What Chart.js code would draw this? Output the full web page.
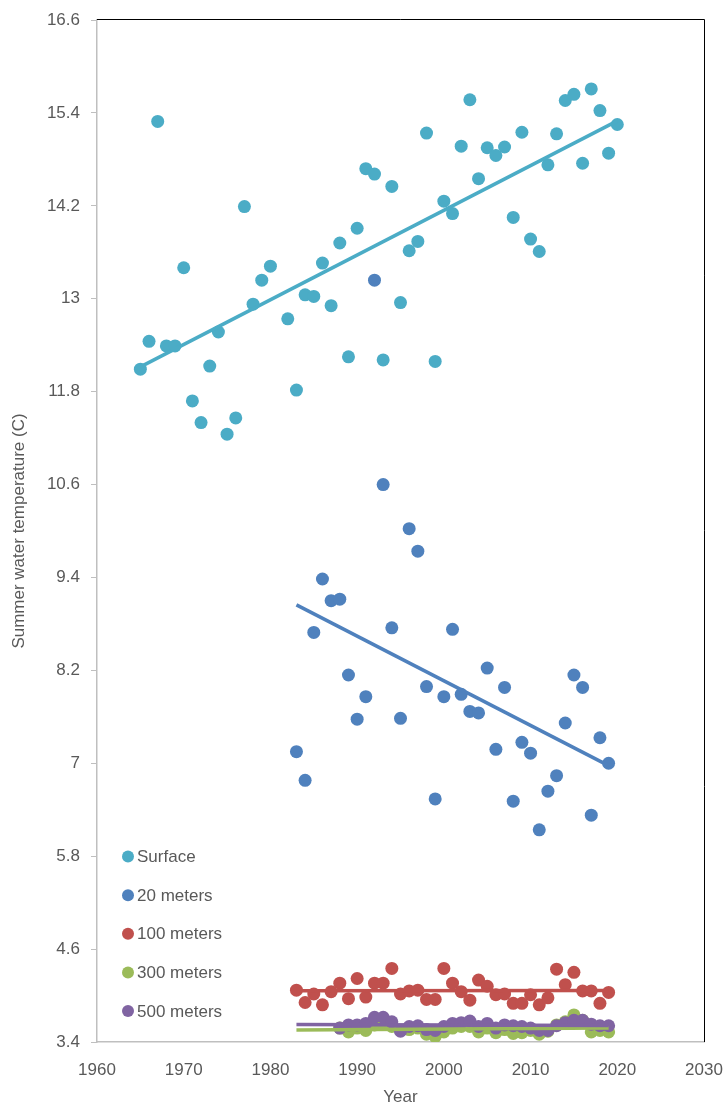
<!DOCTYPE html>
<html lang="en">
<head>
    <meta charset="UTF-8">
    <title>Summer water temperature</title>
    <script src="https://cdn.jsdelivr.net/npm/chart.js"></script>
    <style>
        html, body {
            margin: 0;
            padding: 0;
            background: #fff;
        }
        .chart-container {
            position: relative;
            width: 728px;
            height: 1108px;
        }
    </style>
</head>
<body>
    <div class="chart-container">
        <canvas id="tempChart"></canvas>
    </div>

    <script>
        // years
        function range(a, b) {
            const out = [];
            for (let y = a; y <= b; y++) out.push(y);
            return out;
        }
        const surfaceYears = range(1965, 2020).filter(y => y !== 1981);
        const m20Years = range(1983, 2019);
        const m100Years = range(1983, 2019);
        const deepYears = range(1988, 2019);

        // values (C)
        const surface = [12.09, 12.45, 15.29, 12.39, 12.39, 13.40, 11.68, 11.40, 12.13, 12.57,
            11.25, 11.46, 14.19, 12.93, 13.24, 13.42, 12.74, 11.82, 13.05, 13.03,
            13.46, 12.91, 13.72, 12.25, 13.91, 14.68, 14.61, 12.21, 14.45, 12.95,
            13.62, 13.74, 15.14, 12.19, 14.26, 14.10, 14.97, 15.57, 14.55, 14.95,
            14.85, 14.96, 14.05, 15.15, 13.77, 13.61, 14.73, 15.13, 15.56, 15.64,
            14.75, 15.71, 15.43, 14.88, 15.25];
        const m20 = [7.15, 6.78, 8.69, 9.38, 9.10, 9.12, 8.14, 7.57, 7.86, 13.24,
            10.60, 8.75, 7.58, 10.03, 9.74, 7.99, 6.54, 7.86, 8.73, 7.89,
            7.67, 7.65, 8.23, 7.18, 7.98, 6.51, 7.27, 7.13, 6.14, 6.64,
            6.84, 7.52, 8.14, 7.98, 6.33, 7.33, 7.00];
        const m100 = [4.07, 3.91, 4.02, 3.88, 4.05, 4.16, 3.96, 4.22, 3.98, 4.16,
            4.16, 4.35, 4.02, 4.06, 4.07, 3.95, 3.95, 4.35, 4.16, 4.05,
            3.94, 4.20, 4.12, 4.01, 4.02, 3.90, 3.90, 4.01, 3.88, 3.97,
            4.34, 4.14, 4.30, 4.06, 4.06, 3.90, 4.04];
        const m300 = [3.58, 3.53, 3.58, 3.55, 3.62, 3.63, 3.60, 3.55, 3.56, 3.58,
            3.50, 3.47, 3.53, 3.58, 3.60, 3.60, 3.53, 3.58, 3.52, 3.56,
            3.51, 3.52, 3.55, 3.50, 3.54, 3.62, 3.66, 3.75, 3.68, 3.53,
            3.55, 3.53];
        const m500 = [3.58, 3.62, 3.62, 3.64, 3.72, 3.72, 3.66, 3.54, 3.60, 3.61,
            3.56, 3.55, 3.60, 3.64, 3.65, 3.67, 3.60, 3.64, 3.58, 3.62,
            3.61, 3.60, 3.58, 3.55, 3.55, 3.61, 3.65, 3.68, 3.68, 3.63,
            3.61, 3.61];

        const seriesNames = ['Surface', '20 meters', '100 meters', '300 meters', '500 meters'];
        const seriesColors = ['#4BACC6', '#4F81BD', '#C0504D', '#9BBB59', '#8064A2'];
        // x span of each linear trendline
        const trendFrom = [1965, 1983, 1983, 1983, 1983];
        const trendTo = [2020, 2019, 2019, 2019, 2019];

        const yTicks = [3.4, 4.6, 5.8, 7, 8.2, 9.4, 10.6, 11.8, 13, 14.2, 15.4, 16.6];

        const textColor = '#595959';
        const axisColor = '#BFBFBF';
        Chart.defaults.font.family = "'Liberation Sans', Arial, sans-serif";
        Chart.defaults.font.size = 17;
        Chart.defaults.color = textColor;

        function toPoints(xs, ys) {
            return xs.map((x, i) => ({ x: x, y: ys[i] }));
        }

        // least squares line, evaluated at both ends
        function trend(xs, ys, from, to) {
            const n = xs.length;
            const mx = xs.reduce((a, b) => a + b, 0) / n;
            const my = ys.reduce((a, b) => a + b, 0) / n;
            let sxy = 0, sxx = 0;
            for (let i = 0; i < n; i++) {
                sxy += (xs[i] - mx) * (ys[i] - my);
                sxx += (xs[i] - mx) * (xs[i] - mx);
            }
            const m = sxy / sxx;
            const b = my - m * mx;
            return [{ x: from, y: m * from + b }, { x: to, y: m * to + b }];
        }

        const allX = [surfaceYears, m20Years, m100Years, deepYears, deepYears];
        const allY = [surface, m20, m100, m300, m500];

        const datasets = [];
        allY.forEach((ys, i) => {
            datasets.push({
                label: seriesNames[i],
                data: toPoints(allX[i], ys),
                backgroundColor: seriesColors[i],
                borderColor: seriesColors[i],
                pointRadius: 6.5,
                pointBorderWidth: 0,
                showLine: false,
                order: 20 - i
            });
        });
        allY.forEach((ys, i) => {
            datasets.push({
                label: seriesNames[i] + ' trend',
                data: trend(allX[i], ys, trendFrom[i], trendTo[i]),
                borderColor: seriesColors[i],
                borderWidth: 3.5,
                pointRadius: 0,
                showLine: true,
                fill: false,
                order: 10 - i
            });
        });

        // black frame on top and right side of the plot area
        const frame = {
            id: 'frame',
            beforeDatasetsDraw(chart) {
                const { ctx, chartArea: a } = chart;
                ctx.save();
                ctx.strokeStyle = '#000';
                ctx.lineWidth = 1;
                ctx.beginPath();
                ctx.moveTo(a.left, a.top - 0.5);
                ctx.lineTo(a.right + 0.5, a.top - 0.5);
                ctx.lineTo(a.right + 0.5, a.bottom);
                ctx.stroke();
                ctx.restore();
            }
        };

        // legend inside the plot, bottom left
        const insideLegend = {
            id: 'insideLegend',
            afterDraw(chart) {
                const { ctx, chartArea: a } = chart;
                const n = seriesNames.length;
                ctx.save();
                ctx.font = "17px 'Liberation Sans', Arial, sans-serif";
                ctx.textBaseline = 'middle';
                seriesNames.forEach((name, i) => {
                    const y = a.bottom - 31 - (n - 1 - i) * 38.6;
                    ctx.beginPath();
                    ctx.fillStyle = seriesColors[i];
                    ctx.arc(a.left + 31, y, 6, 0, Math.PI * 2);
                    ctx.fill();
                    ctx.fillStyle = textColor;
                    ctx.fillText(name, a.left + 40, y + 1);
                });
                ctx.restore();
            }
        };

        new Chart(document.getElementById('tempChart'), {
            type: 'scatter',
            data: { datasets },
            options: {
                responsive: true,
                maintainAspectRatio: false,
                animation: false,
                layout: {
                    padding: { top: 20, right: 24, left: 0, bottom: 0 }
                },
                plugins: {
                    legend: { display: false },
                    tooltip: { enabled: false }
                },
                scales: {
                    x: {
                        type: 'linear',
                        min: 1960,
                        max: 2030,
                        afterFit: s => {
                            s.height = 66;
                            s.paddingLeft = 0;
                            s.paddingRight = 0;
                        },
                        ticks: {
                            stepSize: 10,
                            padding: 18,
                            callback: v => String(v)
                        },
                        grid: { display: false, drawTicks: false },
                        border: { color: axisColor, width: 1.5 },
                        title: {
                            display: true,
                            text: 'Year',
                            padding: { top: 11, bottom: 0 }
                        }
                    },
                    y: {
                        min: 3.4,
                        max: 16.6,
                        afterFit: s => {
                            s.width = 97;
                            s.paddingTop = 0;
                            s.paddingBottom = 0;
                        },
                        afterBuildTicks: s => { s.ticks = yTicks.map(v => ({ value: v })); },
                        ticks: {
                            padding: 11,
                            callback: v => String(v)
                        },
                        grid: {
                            drawOnChartArea: false,
                            drawTicks: true,
                            tickLength: 6,
                            color: axisColor
                        },
                        border: { color: axisColor, width: 1.5 },
                        title: {
                            display: true,
                            text: 'Summer water temperature (C)',
                            padding: { top: 9, bottom: 0 }
                        }
                    }
                }
            },
            plugins: [frame, insideLegend]
        });
    </script>
</body>
</html>
